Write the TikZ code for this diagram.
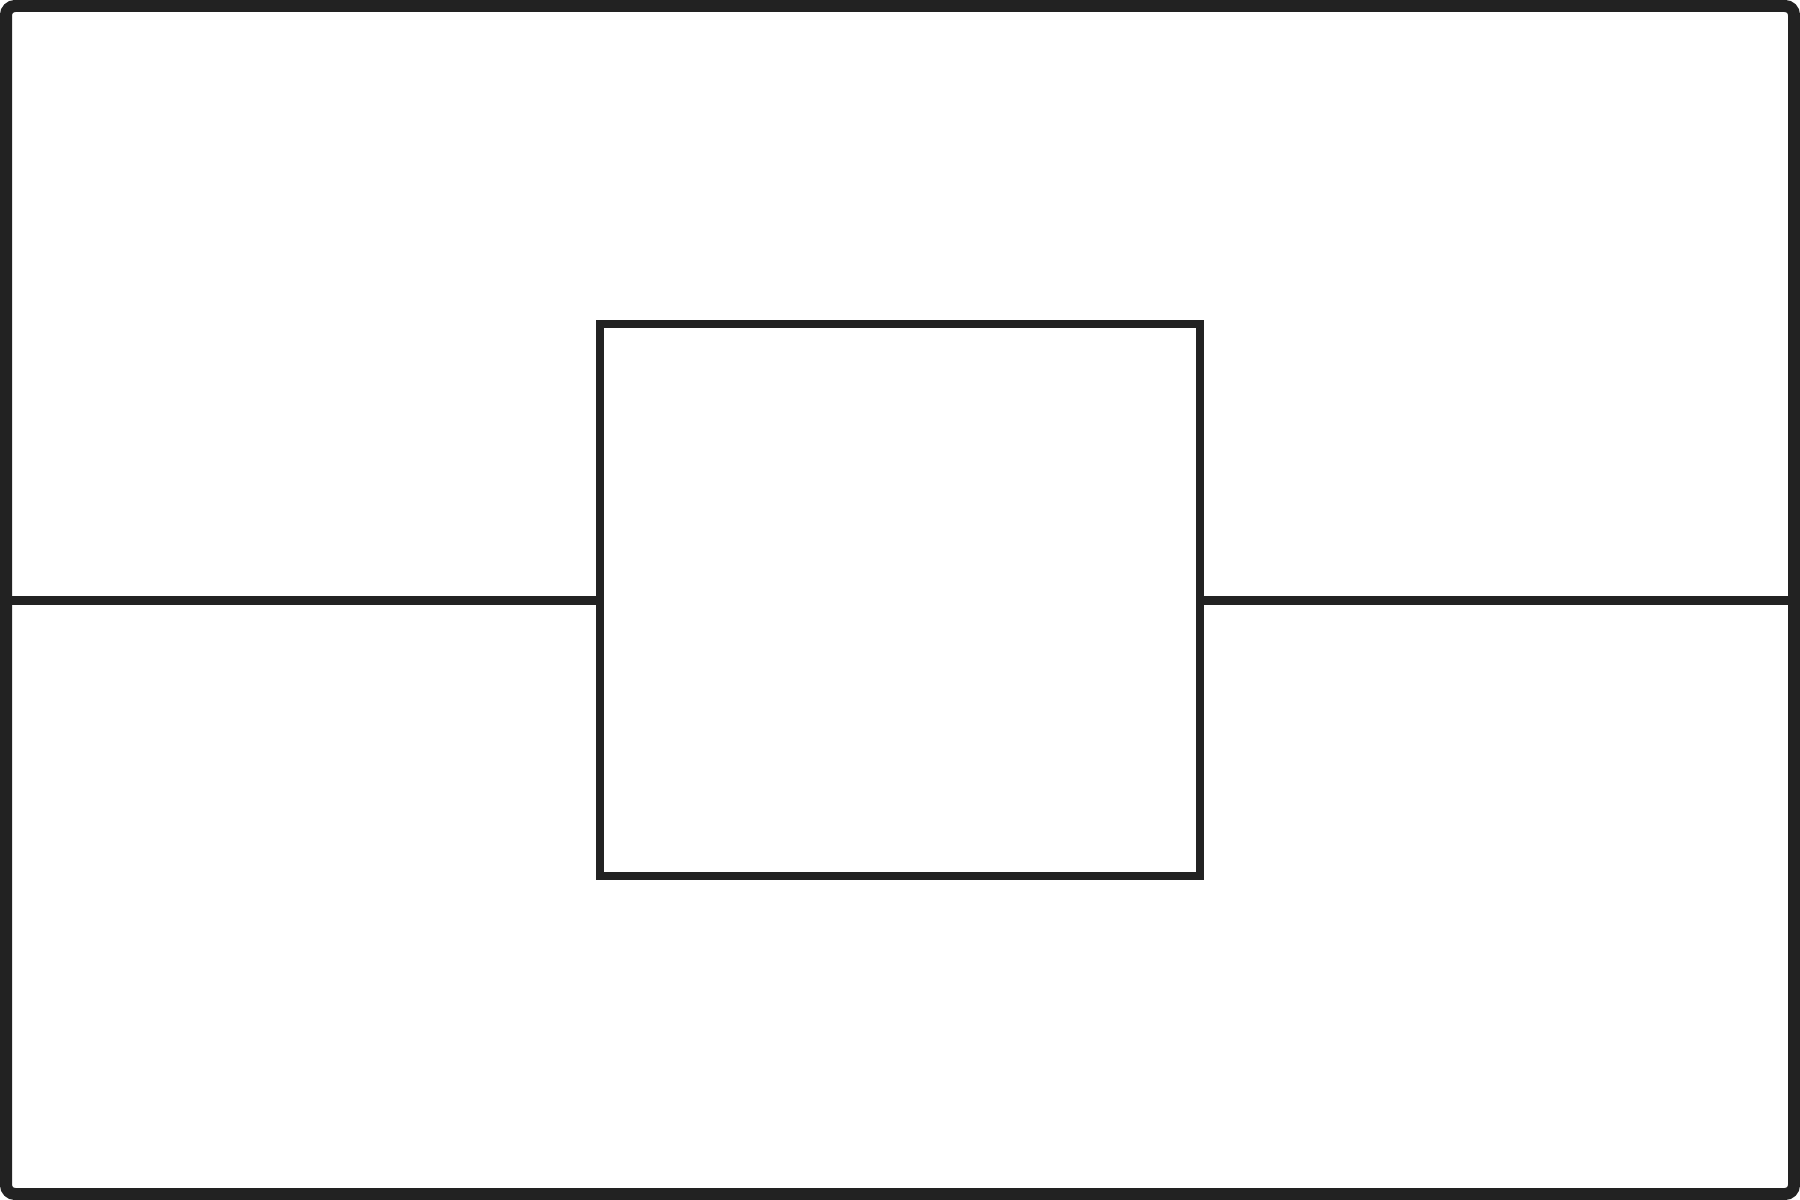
\documentclass[tikz,border=0pt]{standalone}
\begin{document}
\begin{tikzpicture}[x=0.1mm,y=-0.1mm,
  ink/.style={draw={rgb,255:red,34;green,34;blue,34}},
  framebox/.style={ink,line width=1.2mm,rounded corners=0.9mm},
  centerbox/.style={ink,line width=0.87mm,minimum width=60mm,minimum height=55.2mm,inner sep=0pt,outer sep=0pt},
  wire/.style={ink,line width=0.9mm}]
\useasboundingbox (0,0) rectangle (1800,1200);
\draw[framebox] (6,6) rectangle (1794,1194);
\node[centerbox] (box) at (900,600) {};
\coordinate (lf) at (6,600);
\coordinate (rf) at (1794,600);
\draw[wire] (lf) -- (box.west);
\draw[wire] (box.east) -- (rf);
\end{tikzpicture}
\end{document}
